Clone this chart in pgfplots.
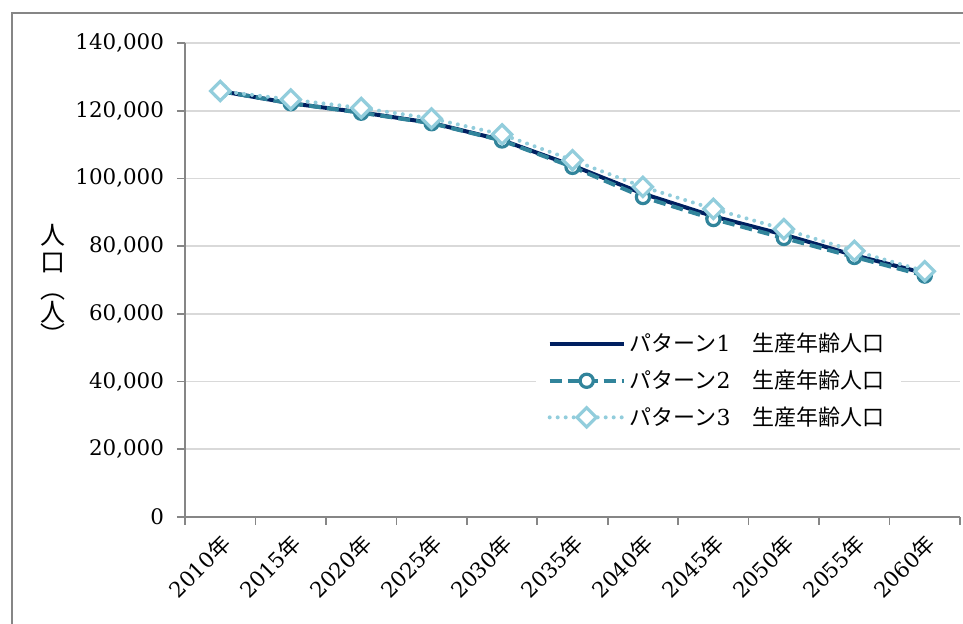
\documentclass[border=0pt]{standalone}
\usepackage{fontspec}
\setmainfont{DejaVu Serif}
\newfontfamily\cjk{Noto Sans CJK JP}
\usepackage{pgfplots}
\pgfplotsset{compat=1.18}
\definecolor{pat1}{HTML}{002060}
\definecolor{pat2}{HTML}{31849B}
\definecolor{pat3}{HTML}{92CDDC}
\definecolor{gridc}{HTML}{D9D9D9}
\definecolor{axc}{HTML}{868686}

\begin{document}
\begin{tikzpicture}
\begin{axis}[
    at={(0,0)}, anchor=south west,
    scale only axis, width=387.5pt, height=237pt,
    xmin=-0.5, xmax=10.5, ymin=0, ymax=140000,
    axis lines=left, axis line style={-, axc, line width=0.8pt},
    xtick={0,...,10},
    xticklabels={2010{\cjk 年},2015{\cjk 年},2020{\cjk 年},2025{\cjk 年},2030{\cjk 年},2035{\cjk 年},2040{\cjk 年},2045{\cjk 年},2050{\cjk 年},2055{\cjk 年},2060{\cjk 年}},
    major x tick style={draw=none},
    minor xtick={-0.5,0.5,...,10.5},
    minor x tick style={axc, line width=0.8pt},
    ytick={0,20000,40000,60000,80000,100000,120000,140000},
    yticklabels={0,{20,000},{40,000},{60,000},{80,000},{100,000},{120,000},{140,000}},
    y tick style={axc, line width=0.8pt},
    tick align=outside, major tick length=4pt, minor tick length=4pt,
    ymajorgrids, grid style={gridc, line width=0.8pt},
    scaled y ticks=false,
    xticklabel style={rotate=45, anchor=north east, font=\fontsize{10.7}{12}\selectfont, xshift=0.5pt, yshift=1pt},
    yticklabel style={font=\fontsize{10.7}{12}\selectfont, xshift=-3pt},
    ylabel={人\\口\\︵\\[-2pt]人\\[-2pt]︶},
    ylabel style={rotate=-90, align=center, font=\cjk\fontsize{12.5}{13.5}\selectfont, at={(axis description cs:-0.17,0.49)}, anchor=center},
    legend cell align=left,
    legend style={at={(0.452,0.405)}, anchor=north west, draw=none, fill=white,
        font=\fontsize{11}{13}\selectfont, row sep=3.5pt, inner xsep=6pt},
    legend image code/.code={\draw[mark repeat=2, mark phase=2] plot coordinates {(0cm,0cm) (0.65cm,0cm) (1.3cm,0cm)};},
]
\addplot[pat1, line width=2pt, mark=none] coordinates {
(0,125800) (1,122200) (2,119500) (3,116400) (4,111300) (5,103800) (6,95500) (7,88800) (8,83400) (9,77300) (10,72000)};
\addplot[pat2, line width=2pt, dash pattern=on 6pt off 3pt, mark=*, mark size=3.3pt,
    mark options={solid, fill=white, line width=1.6pt}] coordinates {
(0,125800) (1,122200) (2,119400) (3,116300) (4,111200) (5,103400) (6,94500) (7,88000) (8,82400) (9,76800) (10,71300)};
\addplot[pat3, line width=2pt, dash pattern=on 0pt off 4pt, line cap=round, mark=square*, mark size=3.4pt,
    mark options={solid, fill=white, line width=1.6pt, rotate=45}] coordinates {
(0,125800) (1,123300) (2,120800) (3,117700) (4,113000) (5,105400) (6,97500) (7,91000) (8,85000) (9,78600) (10,72600)};
\legend{{\cjk パターン}1{\cjk 　生産年齢人口},
        {\cjk パターン}2{\cjk 　生産年齢人口},
        {\cjk パターン}3{\cjk 　生産年齢人口}}
\end{axis}
\pgfresetboundingbox
\useasboundingbox (-92.5pt,-53.5pt) rectangle (389pt,258.5pt);
\draw[axc, line width=0.8pt] (-86.5pt,-60pt) -- (-86.5pt,252pt) -- (395pt,252pt);
\end{tikzpicture}
\end{document}
